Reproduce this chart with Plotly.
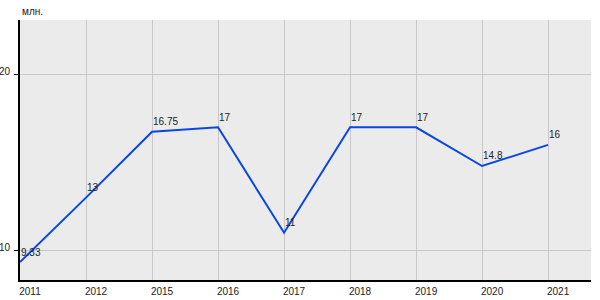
import plotly.graph_objects as go

years = ["2011", "2012", "2015", "2016", "2017", "2018", "2019", "2020", "2021"]
values = [9.33, 13, 16.75, 17, 11, 17, 17, 14.8, 16]
labels = ["9.33", "13", "16.75", "17", "11", "17", "17", "14.8", "16"]
y_ticks = [10, 20]
unit_label = "млн."

FONT = "Liberation Sans, Arial, sans-serif"

fig = go.Figure()
fig.add_trace(go.Scatter(
    x=list(range(len(years))), y=values, mode="lines",
    line=dict(color="#0a46e0", width=2), hoverinfo="skip", showlegend=False,
))

for i, (v, t) in enumerate(zip(values, labels)):
    fig.add_annotation(x=i, y=v, text=t, showarrow=False, xanchor="left",
                       yanchor="middle", yshift=10, xshift=-1,
                       font=dict(family=FONT, size=10, color="#222222"))

fig.add_annotation(x=0, y=1, xref="paper", yref="paper", text=unit_label,
                   showarrow=False, xanchor="left", yanchor="bottom", yshift=1,
                   font=dict(family=FONT, size=10, color="#222222"))

fig.update_layout(
    width=600, height=300,
    margin=dict(l=20, r=9, t=20, b=20, autoexpand=False),
    paper_bgcolor="white", plot_bgcolor="#ebebeb",
    font=dict(family=FONT, size=10, color="#222222"),
    xaxis=dict(
        range=[0, 8.65], tickmode="array", tickvals=list(range(len(years))),
        ticktext=years, showgrid=True, gridcolor="#c8c8c8", gridwidth=1,
        showline=True, linecolor="black", linewidth=2, ticks="",
        ticklabelshift=10, zeroline=False, fixedrange=True,
        ticklabelstandoff=1, automargin=False,
    ),
    yaxis=dict(
        range=[8.31, 23.11], tickvals=y_ticks, showgrid=True,
        gridcolor="#c8c8c8", gridwidth=1, showline=True, linecolor="black",
        linewidth=2, ticks="outside", ticklen=4, tickcolor="black",
        zeroline=False, fixedrange=True, ticklabelstandoff=2,
        ticklabelshift=-3, automargin=False,
    ),
)

fig.write_html("out.html")
